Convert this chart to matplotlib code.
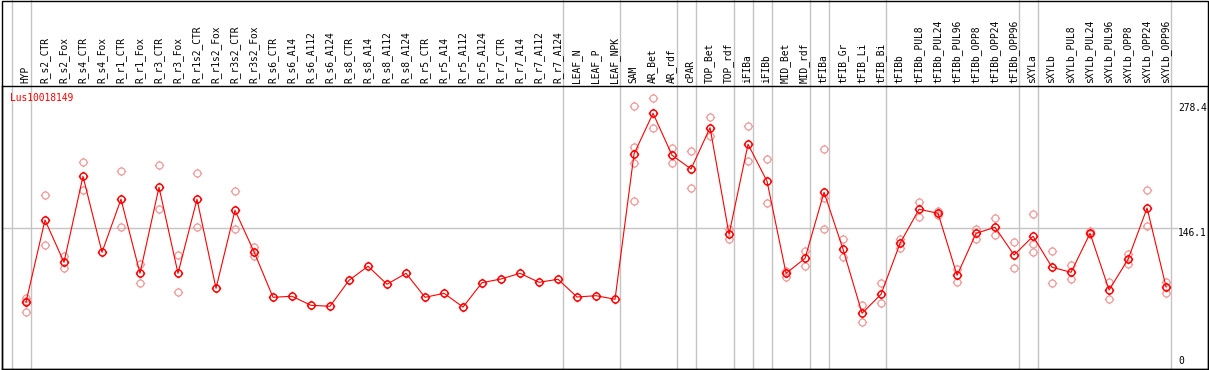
import numpy as np
import matplotlib
matplotlib.use('Agg')
import matplotlib.pyplot as plt
from matplotlib.path import Path
from matplotlib.patches import Rectangle

samples = ['HYP', 'R_s2_CTR', 'R_s2_Fox', 'R_s4_CTR', 'R_s4_Fox', 'R_r1_CTR', 'R_r1_Fox',
           'R_r3_CTR', 'R_r3_Fox', 'R_r1s2_CTR', 'R_r1s2_Fox', 'R_r3s2_CTR', 'R_r3s2_Fox',
           'R_s6_CTR', 'R_s6_A14', 'R_s6_A112', 'R_s6_A124', 'R_s8_CTR', 'R_s8_A14',
           'R_s8_A112', 'R_s8_A124', 'R_r5_CTR', 'R_r5_A14', 'R_r5_A112', 'R_r5_A124',
           'R_r7_CTR', 'R_r7_A14', 'R_r7_A112', 'R_r7_A124', 'LEAF_N', 'LEAF_P', 'LEAF_NPK',
           'SAM', 'AR_Bet', 'AR_rdf', 'cPAR', 'TOP_Bet', 'TOP_rdf', 'iFIBa', 'iFIBb',
           'MID_Bet', 'MID_rdf', 'tFIBa', 'tFIB_Gr', 'tFIB_Li', 'tFIB_Bi', 'tFIBb',
           'tFIBb_PUL8', 'tFIBb_PUL24', 'tFIBb_PUL96', 'tFIBb_OPP8', 'tFIBb_OPP24',
           'tFIBb_OPP96', 'sXYLa', 'sXYLb', 'sXYLb_PUL8', 'sXYLb_PUL24', 'sXYLb_PUL96',
           'sXYLb_OPP8', 'sXYLb_OPP24', 'sXYLb_OPP96']

means = [67.5, 154.7, 109.9, 201.0, 120.5, 176.7, 98.2, 189.4, 98.2, 176.7, 82.3, 165.0,
         121.1, 72.8, 73.9, 64.3, 63.3, 90.8, 105.7, 86.6, 98.2, 72.8, 77.0, 62.5, 88.3,
         92.2, 98.2, 88.7, 91.9, 73.1, 74.5, 70.7, 224.7, 267.8, 223.3, 208.8, 252.5,
         139.6, 235.0, 195.7, 98.2, 114.1, 184.1, 123.7, 55.9, 76.0, 130.0, 166.1, 161.8,
         96.1, 140.6, 147.0, 117.6, 137.5, 104.6, 99.3, 140.6, 80.5, 113.1, 167.4, 83.7]

replicates = [
    [71.7, 69.2, 57.5], [180.9, 127.9], [116.6, 103.5], [215.9, 186.5], [],
    [206.3, 147.0], [107.8, 87.6], [212.7, 166.7], [117.3, 78.7], [204.2, 147.6], [],
    [185.1, 144.9], [126.4, 116.6], [], [], [], [], [], [], [], [], [], [], [], [], [],
    [], [], [], [], [], [],
    [275.5, 231.8, 214.8, 174.5], [283.7, 251.9], [231.0, 215.5], [227.5, 188.3],
    [263.6, 243.7], [145.2, 134.3], [254.0, 216.9], [219.1, 172.4], [101.0, 94.6],
    [121.9, 106.3], [229.7, 177.7, 144.9], [134.3, 115.2], [64.6, 46.9], [87.6, 66.4],
    [134.6, 125.4], [173.5, 158.2], [164.3, 160.3], [102.8, 89.3], [145.2, 134.9],
    [156.8, 138.5], [131.7, 103.5], [160.8, 129.3, 121.1], [121.6, 88.0], [107.0, 91.9],
    [143.1, 139.9], [88.7, 71.3], [118.7, 108.1], [186.2, 148.4], [89.3, 77.0],
]

# group separators sit just right of these sample indices
group_ends = [-1, 0, 28, 31, 34, 35, 37, 38, 39, 41, 42, 45, 52, 53, 60]
y_ticks = [0, 146.1, 278.4]
title = 'Lus10018149'

W, H = 1209, 370
fig = plt.figure(figsize=(W / 100, H / 100), dpi=100)
ax = fig.add_axes([1.5 / W, 1.5 / H, 1206 / W, 282.5 / H])
ax.set_xlim(-1.289, 62.18)
ax.set_ylim(-2.65, 296.7)
ax.set_xticks([])
ax.set_yticks([])
for s in ax.spines.values():
    s.set_linewidth(1.0)
    s.set_color('black')

# circle with four small nubs
circ = Path.unit_circle()
tick_verts = [(0, 1), (0, 1.35), (0, -1), (0, -1.35), (1, 0), (1.35, 0), (-1, 0), (-1.35, 0)]
tick_codes = [Path.MOVETO, Path.LINETO] * 4
marker = Path.make_compound_path(circ, Path(tick_verts, tick_codes))

font = dict(family='DejaVu Sans Mono', fontsize=6.9)
grid_c = '#c4c4c4'

# separators across full height
for g in group_ends:
    ax.plot([g + 0.24, g + 0.24], [0, 1.304], color=grid_c, lw=1.0,
            transform=ax.get_xaxis_transform(), clip_on=False, zorder=1)
ax.axhline(146.1, xmin=0, xmax=0.975, color=grid_c, lw=1.0, zorder=1)

x = np.arange(len(samples))
rx = [i for i, r in enumerate(replicates) for _ in r]
ry = [v for r in replicates for v in r]
ax.plot(rx, ry, linestyle='none', marker=marker, ms=6.8, mfc='none',
        mec='#ef9a9a', mew=0.9, zorder=2)
ax.plot(x, means, '-', color='red', lw=0.8, marker=marker, ms=6.8, mfc='none',
        mec='red', mew=1.05, zorder=3)

for i, name in enumerate(samples):
    ax.text(i - 0.03, 1.0106, name, rotation=90, ha='center', va='bottom',
            transform=ax.get_xaxis_transform(), clip_on=False, **font)

for v in y_ticks:
    ax.text(60.63, v, f'{v:g}', ha='left', va='bottom' if v == 0 else 'top', **font)

ax.text(8.5 / 1206, 0.975, title, color='red', ha='left', va='top',
        transform=ax.transAxes, **font)

fig.add_artist(Rectangle((1.5 / W, 1.5 / H), 1206 / W, 368 / H, fill=False,
                         edgecolor='black', lw=1.0, transform=fig.transFigure))

fig.savefig('out.png', dpi=100, facecolor='white')
